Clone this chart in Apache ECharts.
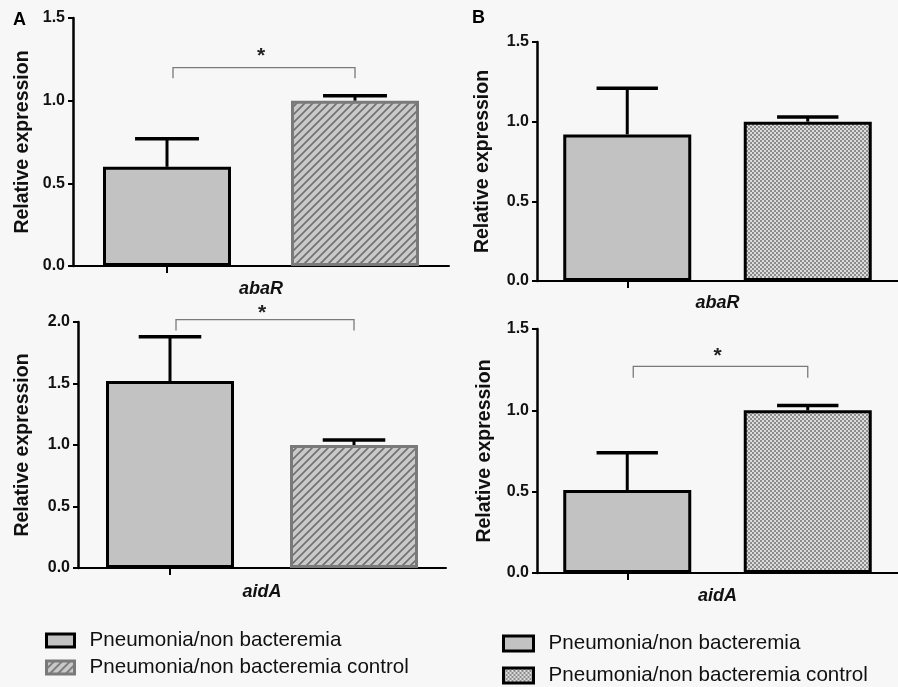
<!DOCTYPE html>
<html>
<head>
<meta charset="utf-8">
<script src="https://cdn.jsdelivr.net/npm/echarts@6/dist/echarts.min.js"></script>
<style>
html, body { margin: 0; padding: 0; background: #f7f7f7; }
#main { width: 898px; height: 687px; }
</style>
</head>
<body>
<div id="main"></div>
<script>
// groups shown on each x axis
const categories = ['Pneumonia/non bacteremia', 'Pneumonia/non bacteremia control'];

// panel A, abaR
const abaRA = [0.6, 1.0];
const abaRAErr = [0.77, 1.03];
// panel A, aidA
const aidAA = [1.52, 1.0];
const aidAAErr = [1.88, 1.04];
// panel B, abaR
const abaRB = [0.92, 1.0];
const abaRBErr = [1.21, 1.03];
// panel B, aidA
const aidAB = [0.51, 1.0];
const aidABErr = [0.74, 1.03];

// significance brackets: [from cat, to cat, bar height, end height, star height]
const sigAbaRA = [0, 1, 1.2, 1.135, 1.27];
const sigAidAA = [0, 1, 2.02, 1.93, 2.07];
const sigAidAB = [0, 1, 1.27, 1.2, 1.33];

const yTicksA1 = { max: 1.5, interval: 0.5 };
const yTicksA2 = { max: 2.0, interval: 0.5 };
const yTicksB = { max: 1.5, interval: 0.5 };

const FONT = 'Liberation Sans, Arial, sans-serif';

// fill patterns
function hatchPattern() {
    const c = document.createElement('canvas');
    c.width = 8; c.height = 8;
    const g = c.getContext('2d');
    g.fillStyle = '#c9c9c9';
    g.fillRect(0, 0, 8, 8);
    g.strokeStyle = '#707070';
    g.lineWidth = 1.6;
    g.beginPath();
    g.moveTo(0, 8); g.lineTo(8, 0);
    g.moveTo(-4, 4); g.lineTo(4, -4);
    g.moveTo(4, 12); g.lineTo(12, 4);
    g.stroke();
    return c;
}
function dotPattern() {
    const c = document.createElement('canvas');
    c.width = 4; c.height = 4;
    const g = c.getContext('2d');
    g.fillStyle = '#dcdcdc';
    g.fillRect(0, 0, 4, 4);
    g.fillStyle = '#8c8c8c';
    g.fillRect(0, 0, 2, 2);
    g.fillRect(2, 2, 2, 2);
    return c;
}
const hatch = { image: hatchPattern(), repeat: 'repeat' };
const dots = { image: dotPattern(), repeat: 'repeat' };

const caseStyle = { color: '#c2c2c2', borderColor: '#000', borderWidth: 3 };
const ctrlStyleA = { color: hatch, borderColor: '#7a7a7a', borderWidth: 3 };
const ctrlStyleB = { color: dots, borderColor: '#000', borderWidth: 3 };

const chart = echarts.init(document.getElementById('main'));

function xAxisFor(gridIndex, name, nameGap) {
    return {
        type: 'category',
        gridIndex,
        data: categories,
        name,
        nameLocation: 'middle',
        nameGap,
        nameTextStyle: { fontFamily: FONT, fontSize: 18, fontWeight: 'bold', fontStyle: 'italic', color: '#111' },
        axisLine: { lineStyle: { color: '#000', width: 2 } },
        axisTick: { show: true, alignWithLabel: true, length: 7, lineStyle: { color: '#000', width: 2 } },
        axisLabel: { show: false },
        splitLine: { show: false },
    };
}
function yAxisFor(gridIndex, ticks, nameGap) {
    return {
        type: 'value',
        gridIndex,
        min: 0,
        max: ticks.max,
        interval: ticks.interval,
        name: 'Relative expression',
        nameLocation: 'middle',
        nameGap,
        nameTextStyle: { fontFamily: FONT, fontSize: 19.5, fontWeight: 'bold', color: '#111' },
        axisLine: { show: true, lineStyle: { color: '#000', width: 2.5 } },
        axisTick: { show: true, length: 5, lineStyle: { color: '#000', width: 2 } },
        axisLabel: {
            margin: 8,
            fontFamily: FONT,
            fontSize: 16,
            fontWeight: 'bold',
            color: '#111',
            formatter: (v) => v.toFixed(1),
        },
        splitLine: { show: false },
    };
}

function barPair(idx, values, ctrlStyle, width) {
    return [
        {
            name: categories[0],
            type: 'bar',
            xAxisIndex: idx,
            yAxisIndex: idx,
            barWidth: width,
            barGap: '-100%',
            itemStyle: caseStyle,
            data: [values[0], '-'],
        },
        {
            name: categories[1],
            type: 'bar',
            xAxisIndex: idx,
            yAxisIndex: idx,
            barWidth: width,
            barGap: '-100%',
            itemStyle: ctrlStyle,
            data: ['-', values[1]],
        },
    ];
}

function errorBars(idx, values, errs) {
    return {
        type: 'custom',
        xAxisIndex: idx,
        yAxisIndex: idx,
        clip: false,
        z: 5,
        silent: true,
        data: values.map((v, i) => [i, v, errs[i]]),
        renderItem: (params, api) => {
            const p0 = api.coord([api.value(0), api.value(1)]);
            const p1 = api.coord([api.value(0), api.value(2)]);
            const half = api.size([1, 0])[0] * 0.17;
            return {
                type: 'group',
                children: [
                    { type: 'line', shape: { x1: p0[0], y1: p0[1], x2: p1[0], y2: p1[1] }, style: { stroke: '#000', lineWidth: 3 } },
                    { type: 'line', shape: { x1: p1[0] - half, y1: p1[1], x2: p1[0] + half, y2: p1[1] }, style: { stroke: '#000', lineWidth: 3.5 } },
                ],
            };
        },
    };
}

function bracket(idx, sig) {
    return {
        type: 'custom',
        xAxisIndex: idx,
        yAxisIndex: idx,
        clip: false,
        silent: true,
        data: [sig],
        renderItem: (params, api) => {
            const a = api.coord([api.value(0), api.value(2)]);
            const b = api.coord([api.value(1), api.value(2)]);
            const aEnd = api.coord([api.value(0), api.value(3)]);
            const star = api.coord([(api.value(0) + api.value(1)) / 2, api.value(4)]);
            const mid = (a[0] + b[0]) / 2;
            return {
                type: 'group',
                children: [
                    {
                        type: 'polyline',
                        shape: { points: [[a[0] + 6, aEnd[1]], [a[0] + 6, a[1]], [b[0], b[1]], [b[0], aEnd[1]]] },
                        style: { stroke: '#7a7a7a', lineWidth: 1.3, fill: null },
                    },
                    {
                        type: 'text',
                        style: { text: '*', x: mid, y: star[1], align: 'center', verticalAlign: 'middle', font: 'bold 21px ' + FONT, fill: '#222' },
                    },
                ],
            };
        },
    };
}

const option = {
    backgroundColor: '#f7f7f7',
    animation: false,
    title: [
        { text: 'A', left: 13, top: 11, padding: 0, textStyle: { fontFamily: FONT, fontSize: 18, fontWeight: 'bold', color: '#000' } },
        { text: 'B', left: 472, top: 9, padding: 0, textStyle: { fontFamily: FONT, fontSize: 18, fontWeight: 'bold', color: '#000' } },
    ],
    legend: [
        {
            orient: 'vertical',
            icon: 'rect',
            selectedMode: false,
            left: 45,
            top: 630,
            height: 80,
            padding: 0,
            itemWidth: 28,
            itemHeight: 13,
            itemGap: 6,
            textStyle: { fontFamily: FONT, fontSize: 20.6, color: '#111', padding: [0, 0, 0, 10] },
            data: [
                { name: categories[0], itemStyle: caseStyle },
                { name: categories[1], itemStyle: ctrlStyleA },
            ],
        },
        {
            orient: 'vertical',
            icon: 'rect',
            selectedMode: false,
            left: 502,
            top: 633,
            height: 80,
            padding: 0,
            itemWidth: 30,
            itemHeight: 15,
            itemGap: 11,
            textStyle: { fontFamily: FONT, fontSize: 20.6, color: '#111', padding: [0, 0, 0, 10] },
            data: [
                { name: categories[0], itemStyle: caseStyle },
                { name: categories[1], itemStyle: ctrlStyleB },
            ],
        },
    ],
    grid: [
        { left: 73, top: 18, width: 376, height: 248 },
        { left: 78, top: 322, width: 368, height: 246 },
        { left: 537, top: 42, width: 362, height: 239 },
        { left: 537, top: 329, width: 372, height: 244 },
    ],
    xAxis: [
        xAxisFor(0, 'abaR', 14),
        xAxisFor(1, 'aidA', 15),
        xAxisFor(2, 'abaR', 13),
        xAxisFor(3, 'aidA', 14),
    ],
    yAxis: [
        yAxisFor(0, yTicksA1, 40),
        yAxisFor(1, yTicksA2, 45),
        yAxisFor(2, yTicksB, 44),
        yAxisFor(3, yTicksB, 42),
    ],
    series: [
        ...barPair(0, abaRA, ctrlStyleA, 128),
        errorBars(0, abaRA, abaRAErr),
        bracket(0, sigAbaRA),
        ...barPair(1, aidAA, ctrlStyleA, 128),
        errorBars(1, aidAA, aidAAErr),
        bracket(1, sigAidAA),
        ...barPair(2, abaRB, ctrlStyleB, 128),
        errorBars(2, abaRB, abaRBErr),
        ...barPair(3, aidAB, ctrlStyleB, 128),
        errorBars(3, aidAB, aidABErr),
        bracket(3, sigAidAB),
    ],
};

chart.setOption(option);
</script>
</body>
</html>
